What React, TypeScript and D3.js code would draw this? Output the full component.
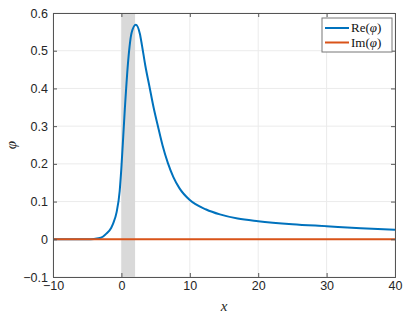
import React, { useEffect, useRef } from "react";
import * as d3 from "d3";

// values
const xValues = [-10, -5, -4, -3, -2.2, -1.5, -1.2, -0.7, -0.25, 0, 0.5, 1, 1.5, 2.1, 2.7, 3, 3.5, 4.1, 4.7, 5.4, 6, 6.8, 7.6, 8.5, 10, 12.4, 14.4, 17, 20, 25, 30, 35, 40];
const reValues = [0, 0, 0.001, 0.004, 0.015, 0.03, 0.042, 0.072, 0.128, 0.19, 0.345, 0.475, 0.548, 0.569, 0.545, 0.515, 0.46, 0.405, 0.35, 0.295, 0.25, 0.202, 0.165, 0.135, 0.104, 0.079, 0.066, 0.055, 0.048, 0.04, 0.0345, 0.029, 0.025];
const imValues = xValues.map(() => 0);
const xTicks = [-10, 0, 10, 20, 30, 40];
const yTicks = [-0.1, 0, 0.1, 0.2, 0.3, 0.4, 0.5, 0.6];
const band = [0, 2];
const seriesNames = ["Re", "Im"];
const seriesColors = ["#0072BD", "#D95319"];

const W = 407;
const H = 320;

const App = () => {
  const ref = useRef<SVGGElement>(null);

  useEffect(() => {
    const svg = d3.select(ref.current);
    svg.selectAll("*").remove();

    const margin = { top: 13, right: 12, bottom: 43, left: 53 };
    const innerWidth = W - margin.left - margin.right;
    const innerHeight = H - margin.top - margin.bottom;

    const xScale = d3.scaleLinear().domain([-10, 40]).range([0, innerWidth]);
    const yScale = d3.scaleLinear().domain([-0.1, 0.6]).range([innerHeight, 0]);

    const g = svg.append("g").attr("transform", `translate(${margin.left},${margin.top})`);

    // grid
    g.append("g")
      .selectAll("line")
      .data(xTicks)
      .join("line")
      .attr("x1", d => xScale(d))
      .attr("x2", d => xScale(d))
      .attr("y1", 0)
      .attr("y2", innerHeight)
      .attr("stroke", "#ebebeb")
      .attr("stroke-width", 1);
    g.append("g")
      .selectAll("line")
      .data(yTicks)
      .join("line")
      .attr("x1", 0)
      .attr("x2", innerWidth)
      .attr("y1", d => yScale(d))
      .attr("y2", d => yScale(d))
      .attr("stroke", "#ebebeb")
      .attr("stroke-width", 1);

    // shaded band
    g.append("rect")
      .attr("x", xScale(band[0]))
      .attr("width", xScale(band[1]) - xScale(band[0]))
      .attr("y", 0)
      .attr("height", innerHeight)
      .attr("fill", "#d9d9d9");

    const data = xValues.map((x, i) => ({ x, re: reValues[i], im: imValues[i] }));

    const lineRe = d3.line<any>()
      .x(d => xScale(d.x))
      .y(d => yScale(d.re))
      .curve(d3.curveMonotoneX);
    const lineIm = d3.line<any>()
      .x(d => xScale(d.x))
      .y(d => yScale(d.im));

    g.append("path")
      .attr("d", lineRe(data))
      .attr("fill", "none")
      .attr("stroke", seriesColors[0])
      .attr("stroke-width", 2);
    g.append("path")
      .attr("d", lineIm(data))
      .attr("fill", "none")
      .attr("stroke", seriesColors[1])
      .attr("stroke-width", 2);

    // axes box
    const axisColor = "#555";
    const bottomAxis = d3.axisBottom(xScale).tickValues(xTicks).tickSize(-4).tickPadding(4).tickFormat(d3.format("d"));
    const topAxis = d3.axisTop(xScale).tickValues(xTicks).tickSize(-4).tickFormat(() => "");
    const leftAxis = d3.axisLeft(yScale).tickValues(yTicks).tickSize(-4).tickPadding(5).tickFormat(d => (d === 0 ? "0" : d3.format(".1f")(d as number)));
    const rightAxis = d3.axisRight(yScale).tickValues(yTicks).tickSize(-4).tickFormat(() => "");

    const styleAxis = (sel: any) => {
      sel.attr("font-family", "'Liberation Sans', Arial, sans-serif").attr("font-size", 12.5);
      sel.selectAll("path").attr("stroke", axisColor).attr("stroke-width", 1);
      sel.selectAll("line").attr("stroke", axisColor);
      sel.selectAll("text").attr("fill", "#262626");
    };

    g.append("g").attr("transform", `translate(0,${innerHeight})`).call(bottomAxis).call(styleAxis);
    g.append("g").call(topAxis).call(styleAxis);
    g.append("g").call(leftAxis).call(styleAxis);
    g.append("g").attr("transform", `translate(${innerWidth},0)`).call(rightAxis).call(styleAxis);

    // axis labels
    svg.append("text")
      .attr("x", margin.left + innerWidth / 2)
      .attr("y", 311)
      .attr("text-anchor", "middle")
      .attr("font-family", "'Liberation Serif', serif")
      .attr("font-style", "italic")
      .attr("font-size", 15)
      .attr("fill", "#262626")
      .text("x");
    svg.append("text")
      .attr("transform", `translate(16,${margin.top + innerHeight / 2}) rotate(-90)`)
      .attr("text-anchor", "middle")
      .attr("font-family", "'Liberation Serif', serif")
      .attr("font-style", "italic")
      .attr("font-size", 15)
      .attr("fill", "#262626")
      .text("φ");

    // legend
    const lg = svg.append("g").attr("transform", "translate(322,18)");
    lg.append("rect")
      .attr("width", 70)
      .attr("height", 34)
      .attr("fill", "white")
      .attr("stroke", "#777")
      .attr("stroke-width", 1);
    seriesNames.forEach((name, i) => {
      const y = 10 + i * 14.5;
      lg.append("line")
        .attr("x1", 3)
        .attr("x2", 27)
        .attr("y1", y)
        .attr("y2", y)
        .attr("stroke", seriesColors[i])
        .attr("stroke-width", 2);
      const t = lg.append("text")
        .attr("x", 29)
        .attr("y", y + 4)
        .attr("font-family", "'Liberation Serif', serif")
        .attr("font-size", 13)
        .attr("fill", "#111");
      t.append("tspan").text(name + "(");
      t.append("tspan").attr("font-style", "italic").text("φ");
      t.append("tspan").text(")");
    });
  }, []);

  return (
    <svg width={W} height={H} style={{ position: "absolute", left: 0, top: 0, background: "white" }}>
      <g ref={ref} />
    </svg>
  );
};

export default App;
